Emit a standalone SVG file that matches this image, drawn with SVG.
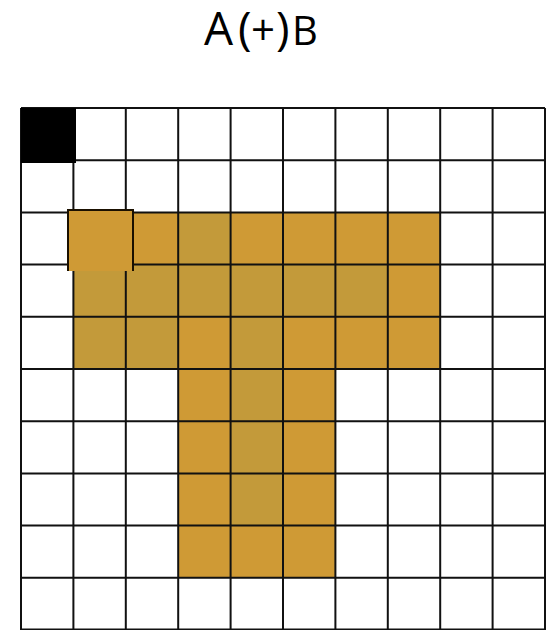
<svg xmlns="http://www.w3.org/2000/svg" width="552" height="630" viewBox="0 0 552 630">
<style>
.t{font-family:"Open Sans","Noto Sans",sans-serif;fill:#000}
.o{fill:#CF9A35}
.d{fill:#C39A3A}
.g{stroke:#111;stroke-width:2;fill:none}
</style>
<rect width="552" height="630" fill="#fff"/>
<g id="title"><text class="t" y="45"><tspan x="204" font-size="46">A</tspan><tspan x="238" font-size="46">(</tspan><tspan x="251" font-size="42">+</tspan><tspan x="276" font-size="46">)</tspan><tspan x="292" font-size="40">B</tspan></text></g>
<g id="fills">
<rect class="o" x="73.4" y="212.4" width="366.8" height="156.6"/>
<rect class="o" x="178.2" y="369" width="157.2" height="208.8"/>
<rect class="d" x="178.2" y="212.4" width="52.4" height="52.2"/>
<rect class="d" x="73.4" y="264.6" width="314.4" height="52.2"/>
<rect class="d" x="73.4" y="316.8" width="104.8" height="52.2"/>
<rect class="d" x="230.6" y="316.8" width="52.4" height="52.2"/>
<rect class="d" x="230.6" y="369" width="52.4" height="156.6"/>
</g>
<g id="grid" class="g">
<path d="M21,108V630M73.4,108V630M125.8,108V630M178.2,108V630M230.6,108V630M283,108V630M335.4,108V630M387.8,108V630M440.2,108V630M492.6,108V630M545,108V630"/>
<path d="M21,108H545M21,160.2H545M21,212.4H545M21,264.6H545M21,316.8H545M21,369H545M21,421.2H545M21,473.4H545M21,525.6H545M21,577.8H545M21,629.5H545"/>
</g>
<g id="black-cell"><rect x="21" y="108" width="55" height="55" fill="#000"/></g>
<g id="highlight-cell">
<rect x="68" y="210" width="65" height="61" fill="#CF9A35"/>
<path d="M68,271V210H133V271" stroke="#1a1000" stroke-width="2" fill="none"/>
</g>
</svg>
